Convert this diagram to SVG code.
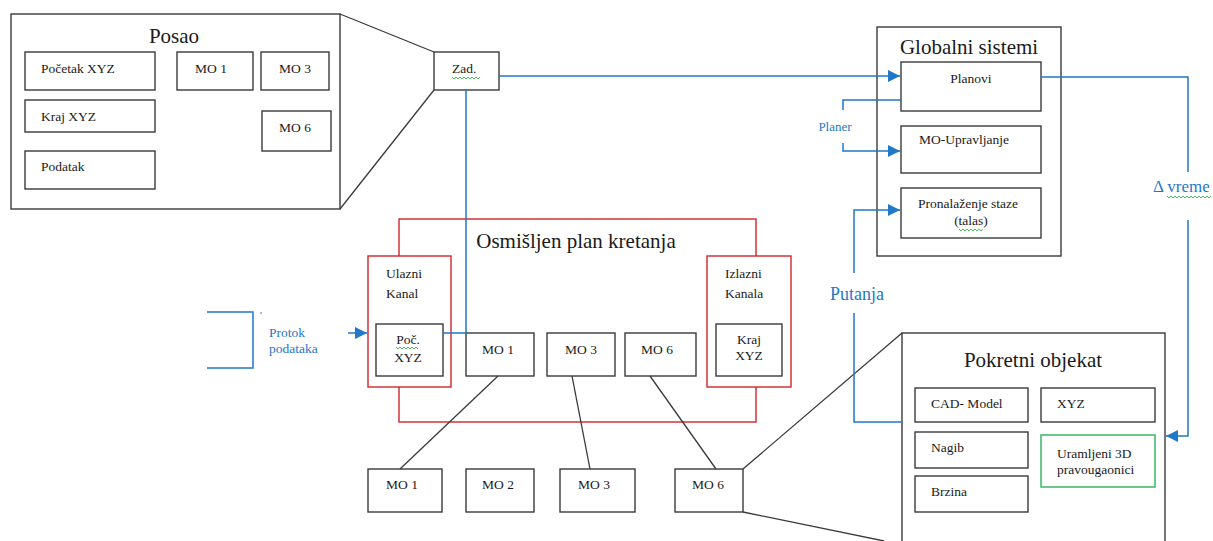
<svg xmlns="http://www.w3.org/2000/svg" width="1213" height="541" viewBox="0 0 1213 541">
<style>
.box{fill:#fff;stroke:#3a3a3a;stroke-width:1.4}
.red{fill:#fff;stroke:#d0262b;stroke-width:1.4}
.green{fill:#fff;stroke:#2ab35a;stroke-width:1.4}
text{font-family:"Liberation Serif","Times New Roman","DejaVu Serif",serif}
.t{font-size:13.5px;fill:#1a1a1a}
.title{font-size:21px;fill:#1a1a1a}
.bt{fill:#1f78c8}
.ln{fill:none;stroke:#3a3a3a;stroke-width:1.3}
.bl{fill:none;stroke:#1f78c8;stroke-width:1.5}
.sq{fill:none;stroke:#3cb34a;stroke-width:0.9}
</style>
<defs>
<marker id="ahb" viewBox="0 0 10 10" refX="10" refY="5" markerWidth="12" markerHeight="12" markerUnits="userSpaceOnUse" orient="auto">
<path d="M0,0 L10,5 L0,10 Z" fill="#1f78c8"/>
</marker>
</defs>

<g id="posao">
<rect class="box" x="11" y="14" width="329" height="195"/>
<text class="title" x="174" y="43" text-anchor="middle">Posao</text>
<rect class="box" x="25" y="52" width="130" height="38"/>
<text class="t" x="41" y="73">Početak XYZ</text>
<rect class="box" x="25" y="100" width="130" height="32"/>
<text class="t" x="41" y="121">Kraj XYZ</text>
<rect class="box" x="25" y="151" width="130" height="38"/>
<text class="t" x="41" y="171">Podatak</text>
<rect class="box" x="177" y="52" width="76" height="38"/>
<text class="t" x="195" y="73">MO 1</text>
<rect class="box" x="261" y="52" width="68" height="38"/>
<text class="t" x="279" y="73">MO 3</text>
<rect class="box" x="262" y="111" width="69" height="40"/>
<text class="t" x="279" y="132">MO 6</text>
</g>

<g id="zad">
<rect class="box" x="434" y="52" width="65" height="38"/>
<text class="t" x="452" y="73">Zad.</text>
<path class="sq" d="M452,77 l2,2 l2,-2 l2,2 l2,-2 l2,2 l2,-2 l2,2 l2,-2 l2,2 l2,-2 l2,2 l2,-2 l2,2 l2,-2"/>
</g>

<g id="globalni">
<rect class="box" x="877" y="27" width="184" height="229"/>
<text class="title" x="969" y="54" text-anchor="middle" font-size="19">Globalni sistemi</text>
<rect class="box" x="901" y="62" width="140" height="49"/>
<text class="t" x="971" y="83" text-anchor="middle">Planovi</text>
<rect class="box" x="901" y="126" width="140" height="47"/>
<text class="t" x="964" y="144" text-anchor="middle">MO-Upravljanje</text>
<rect class="box" x="901" y="188" width="140" height="50"/>
<text class="t" x="968" y="208" text-anchor="middle">Pronalaženje staze</text>
<text class="t" x="971" y="225" text-anchor="middle">(talas)</text>
<path class="sq" d="M959,229 l2,2 l2,-2 l2,2 l2,-2 l2,2 l2,-2 l2,2 l2,-2 l2,2 l2,-2 l2,2 l2,-2"/>
</g>

<g id="plan">
<rect class="red" x="399" y="219" width="357" height="203"/>
<text class="title" x="576" y="248" text-anchor="middle">Osmišljen  plan kretanja</text>
</g>

<g id="ulazni">
<rect class="red" x="368" y="256" width="83" height="131"/>
<text class="t" x="386" y="278" font-size="15">Ulazni</text>
<text class="t" x="386" y="298" font-size="15">Kanal</text>
<rect class="box" x="376" y="324" width="67" height="52"/>
<text class="t" x="408" y="344" text-anchor="middle">Poč.</text>
<path class="sq" d="M396,347 l2,2 l2,-2 l2,2 l2,-2 l2,2 l2,-2 l2,2 l2,-2 l2,2 l2,-2 l2,2"/>
<text class="t" x="408" y="362" text-anchor="middle">XYZ</text>
</g>

<g id="izlazni">
<rect class="red" x="707" y="256" width="84" height="131"/>
<text class="t" x="725" y="278" font-size="15">Izlazni</text>
<text class="t" x="725" y="298" font-size="15">Kanala</text>
<rect class="box" x="716" y="324" width="66" height="52"/>
<text class="t" x="749" y="344" text-anchor="middle">Kraj</text>
<text class="t" x="749" y="360" text-anchor="middle">XYZ</text>
</g>

<g id="mo1-mid"><rect class="box" x="466" y="333" width="68" height="43"/><text class="t" x="482" y="354">MO 1</text></g>
<g id="mo3-mid"><rect class="box" x="547" y="333" width="68" height="43"/><text class="t" x="565" y="354">MO 3</text></g>
<g id="mo6-mid"><rect class="box" x="625" y="333" width="71" height="43"/><text class="t" x="641" y="354">MO 6</text></g>

<g id="mo1-bot"><rect class="box" x="368" y="469" width="74" height="43"/><text class="t" x="386" y="489">MO 1</text></g>
<g id="mo2-bot"><rect class="box" x="466" y="469" width="68" height="43"/><text class="t" x="482" y="489">MO 2</text></g>
<g id="mo3-bot"><rect class="box" x="560" y="469" width="75" height="43"/><text class="t" x="578" y="489">MO 3</text></g>
<g id="mo6-bot"><rect class="box" x="675" y="469" width="68" height="43"/><text class="t" x="692" y="489">MO 6</text></g>

<g id="pokretni">
<rect class="box" x="902" y="333" width="263" height="230"/>
<text class="title" x="1033" y="367" text-anchor="middle">Pokretni objekat</text>
<rect class="box" x="915" y="388" width="113" height="34"/>
<text class="t" x="931" y="408">CAD- Model</text>
<rect class="box" x="1041" y="388" width="114" height="34"/>
<text class="t" x="1057" y="408">XYZ</text>
<rect class="box" x="915" y="432" width="113" height="36"/>
<text class="t" x="931" y="452">Nagib</text>
<rect class="box" x="915" y="476" width="113" height="36"/>
<text class="t" x="931" y="496">Brzina</text>
<rect class="green" x="1041" y="435" width="114" height="52"/>
<text class="t" x="1057" y="458">Uramljeni 3D</text>
<text class="t" x="1057" y="474">pravougaonici</text>
</g>

<g id="connectors">
<line class="ln" x1="340" y1="14" x2="434" y2="52"/>
<line class="ln" x1="340" y1="209" x2="434" y2="90"/>
<line class="ln" x1="400" y1="469" x2="498" y2="376"/>
<line class="ln" x1="590" y1="469" x2="572" y2="376"/>
<line class="ln" x1="716" y1="469" x2="650" y2="376"/>
<line class="ln" x1="743" y1="469" x2="902" y2="333"/>
<line class="ln" x1="743" y1="512" x2="884" y2="541"/>
<path class="bl" d="M499,76 H900" marker-end="url(#ahb)"/>
<path class="bl" d="M466,90 V333 H443"/>
<path class="bl" d="M901,100 H843 V110"/>
<path class="bl" d="M843,143 V151 H900" marker-end="url(#ahb)"/>
<path class="bl" d="M854,273 V210 H900" marker-end="url(#ahb)"/>
<path class="bl" d="M854,313 V422 H902"/>
<path class="bl" d="M1041,77 H1188 V172"/>
<path class="bl" d="M1188,220 V436 H1166" marker-end="url(#ahb)"/>
<path class="bl" d="M207,312 H253 V368 H207"/>
<circle cx="261" cy="313" r="0.8" fill="#1f78c8"/>
<path class="bl" d="M348,333 H367" marker-end="url(#ahb)"/>
<text class="bt" x="835" y="131" font-size="13" text-anchor="middle">Planer</text>
<text class="bt" x="857" y="300" font-size="18" text-anchor="middle">Putanja</text>
<text class="bt" x="1153" y="192" font-size="17">Δ vreme</text>
<path class="sq" d="M1167,196 l2,2 l2,-2 l2,2 l2,-2 l2,2 l2,-2 l2,2 l2,-2 l2,2 l2,-2 l2,2 l2,-2 l2,2 l2,-2 l2,2 l2,-2 l2,2 l2,-2 l2,2 l2,-2 l2,2 l2,-2"/>
<text class="bt" x="269" y="337" font-size="13.5">Protok</text>
<text class="bt" x="269" y="353" font-size="13.5">podataka</text>
</g>
</svg>
